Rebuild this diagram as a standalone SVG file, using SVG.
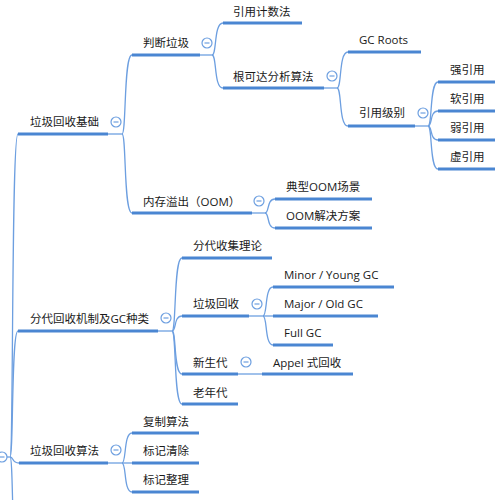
<svg xmlns="http://www.w3.org/2000/svg" width="502" height="500" viewBox="0 0 502 500">
<style>
.u{stroke:#4a86d2;stroke-width:3;fill:none}
.c{stroke:#6d9fe0;stroke-width:1.3;fill:none}
.t{font-family:"Open Sans","Noto Sans CJK SC",sans-serif;font-size:11.5px;fill:#1a1a1a}
.k{fill:#fff;stroke:#6d9fe0;stroke-width:1.2}
.m{stroke:#6d9fe0;stroke-width:1.2}
</style>
<defs>
<g id="col"><circle class="k" cx="0" cy="0" r="5"/><line class="m" x1="-2.5" y1="0" x2="2.5" y2="0"/></g>
</defs>
<rect width="502" height="500" fill="#fff"/>
<g id="connectors">
<path class="c" d="M10 457 C13.6 457 11.2 134 18 134"/>
<path class="c" d="M10 457 C13.6 457 11.2 331 18 331"/>
<path class="c" d="M10 457 C14 457 11.4 463 19 463"/>
<path class="c" d="M10 457 C13.6 457 11.2 560 18 560"/>
<line class="c" x1="7" y1="457" x2="10" y2="457"/>
<line class="c" x1="108" y1="134" x2="122" y2="134"/>
<path class="c" d="M122 134 C126.5 134 123.5 55 132 55"/>
<path class="c" d="M122 134 C126.5 134 123.5 213 132 213"/>
<line class="c" x1="200" y1="55" x2="212" y2="55"/>
<path class="c" d="M212 55 C217 55 213.6 23 223 23"/>
<path class="c" d="M212 55 C217 55 213.6 88 223 88"/>
<line class="c" x1="324" y1="88" x2="337" y2="88"/>
<path class="c" d="M337 88 C342 88 338.6 52 348 52"/>
<path class="c" d="M337 88 C342 88 338.6 126 348 126"/>
<line class="c" x1="415" y1="126" x2="428" y2="126"/>
<path class="c" d="M428 126 C432.5 126 429.5 82 438 82"/>
<path class="c" d="M428 126 C432.5 126 429.5 111 438 111"/>
<path class="c" d="M428 126 C432.5 126 429.5 140 438 140"/>
<path class="c" d="M428 126 C432.5 126 429.5 169 438 169"/>
<line class="c" x1="252" y1="213" x2="265" y2="213"/>
<path class="c" d="M265 213 C269.5 213 266.5 199 275 199"/>
<path class="c" d="M265 213 C269.5 213 266.5 228 275 228"/>
<line class="c" x1="158" y1="331" x2="172" y2="331"/>
<path class="c" d="M172 331 C176.5 331 173.5 258 182 258"/>
<path class="c" d="M172 331 C176.5 331 173.5 316 182 316"/>
<path class="c" d="M172 331 C176.5 331 173.5 374 182 374"/>
<path class="c" d="M172 331 C176.5 331 173.5 404 182 404"/>
<line class="c" x1="249" y1="316" x2="263" y2="316"/>
<path class="c" d="M263 316 C267.5 316 264.5 287 273 287"/>
<line class="c" x1="263" y1="316" x2="273" y2="316"/>
<path class="c" d="M263 316 C267.5 316 264.5 345 273 345"/>
<line class="c" x1="238" y1="374" x2="262" y2="374"/>
<line class="c" x1="108" y1="463" x2="122" y2="463"/>
<path class="c" d="M122 463 C126.5 463 123.5 433 132 433"/>
<line class="c" x1="122" y1="463" x2="132" y2="463"/>
<path class="c" d="M122 463 C126.5 463 123.5 492 132 492"/>
</g>
<g id="root"><use href="#col" x="2" y="457"/></g>
<g id="n-basics"><line class="u" x1="18" y1="134" x2="108" y2="134"/><text class="t" x="30" y="126">垃圾回收基础</text><use href="#col" x="116" y="122"/></g>
<g id="n-judge"><line class="u" x1="132" y1="55" x2="200" y2="55"/><text class="t" x="143" y="47">判断垃圾</text><use href="#col" x="207" y="43"/></g>
<g id="n-refcount"><line class="u" x1="223" y1="23" x2="302" y2="23"/><text class="t" x="233" y="16">引用计数法</text></g>
<g id="n-reach"><line class="u" x1="223" y1="88" x2="324" y2="88"/><text class="t" x="233" y="81">根可达分析算法</text><use href="#col" x="332" y="76"/></g>
<g id="n-gcroots"><line class="u" x1="348" y1="52" x2="421" y2="52"/><text class="t" x="359" y="44">GC Roots</text></g>
<g id="n-reflevel"><line class="u" x1="348" y1="126" x2="415" y2="126"/><text class="t" x="359" y="117">引用级别</text><use href="#col" x="423" y="113"/></g>
<g id="n-strong"><line class="u" x1="438" y1="82" x2="495" y2="82"/><text class="t" x="450" y="74">强引用</text></g>
<g id="n-soft"><line class="u" x1="438" y1="111" x2="495" y2="111"/><text class="t" x="450" y="103">软引用</text></g>
<g id="n-weak"><line class="u" x1="438" y1="140" x2="495" y2="140"/><text class="t" x="450" y="132">弱引用</text></g>
<g id="n-phantom"><line class="u" x1="438" y1="169" x2="495" y2="169"/><text class="t" x="450" y="161">虚引用</text></g>
<g id="n-oom"><line class="u" x1="132" y1="213" x2="252" y2="213"/><text class="t" x="143" y="206">内存溢出（OOM）</text><use href="#col" x="259" y="201"/></g>
<g id="n-oomcase"><line class="u" x1="275" y1="199" x2="372" y2="199"/><text class="t" x="286" y="191">典型OOM场景</text></g>
<g id="n-oomfix"><line class="u" x1="275" y1="228" x2="372" y2="228"/><text class="t" x="286" y="220">OOM解决方案</text></g>
<g id="n-gen"><line class="u" x1="18" y1="331" x2="158" y2="331"/><text class="t" x="30" y="323">分代回收机制及GC种类</text><use href="#col" x="166" y="318"/></g>
<g id="n-gentheory"><line class="u" x1="182" y1="258" x2="272" y2="258"/><text class="t" x="193" y="250">分代收集理论</text></g>
<g id="n-gc"><line class="u" x1="182" y1="316" x2="249" y2="316"/><text class="t" x="193" y="308">垃圾回收</text><use href="#col" x="257" y="304"/></g>
<g id="n-minor"><line class="u" x1="273" y1="287" x2="394" y2="287"/><text class="t" x="284" y="279">Minor / Young GC</text></g>
<g id="n-major"><line class="u" x1="273" y1="316" x2="378" y2="316"/><text class="t" x="284" y="308">Major / Old GC</text></g>
<g id="n-full"><line class="u" x1="273" y1="345" x2="333" y2="345"/><text class="t" x="284" y="337">Full GC</text></g>
<g id="n-young"><line class="u" x1="182" y1="374" x2="238" y2="374"/><text class="t" x="193" y="367">新生代</text><use href="#col" x="246" y="362"/></g>
<g id="n-appel"><line class="u" x1="262" y1="374" x2="353" y2="374"/><text class="t" x="273" y="367">Appel 式回收</text></g>
<g id="n-old"><line class="u" x1="182" y1="404" x2="238" y2="404"/><text class="t" x="193" y="397">老年代</text></g>
<g id="n-algo"><line class="u" x1="19" y1="463" x2="108" y2="463"/><text class="t" x="30" y="455">垃圾回收算法</text><use href="#col" x="116" y="450"/></g>
<g id="n-copy"><line class="u" x1="132" y1="433" x2="199" y2="433"/><text class="t" x="143" y="426">复制算法</text></g>
<g id="n-marksweep"><line class="u" x1="132" y1="463" x2="199" y2="463"/><text class="t" x="143" y="455">标记清除</text></g>
<g id="n-markcompact"><line class="u" x1="132" y1="492" x2="199" y2="492"/><text class="t" x="143" y="484">标记整理</text></g>
</svg>
